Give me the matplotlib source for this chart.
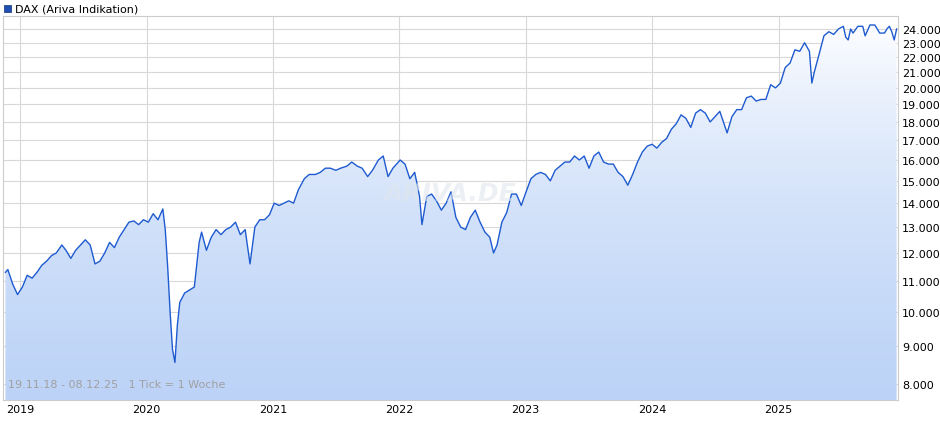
import numpy as np
import pandas as pd
import matplotlib
matplotlib.use('Agg')
import matplotlib.pyplot as plt
import matplotlib.dates as mdates
from matplotlib.ticker import FixedLocator, NullLocator, FuncFormatter

dates = ["2018-11-19","2018-11-26","2018-12-10","2018-12-24","2019-01-07","2019-01-21","2019-02-04","2019-02-18",
"2019-03-04","2019-03-18","2019-04-01","2019-04-15","2019-05-01","2019-05-13","2019-05-27","2019-06-10","2019-06-24",
"2019-07-08","2019-07-22","2019-08-05","2019-08-19","2019-09-02","2019-09-16","2019-09-30","2019-10-14","2019-10-28",
"2019-11-11","2019-11-25","2019-12-09","2019-12-23","2020-01-06","2020-01-20","2020-02-03","2020-02-17","2020-02-24",
"2020-03-02","2020-03-09","2020-03-16","2020-03-23","2020-03-30","2020-04-06","2020-04-20","2020-05-04","2020-05-18",
"2020-06-01","2020-06-08","2020-06-22","2020-07-06","2020-07-20","2020-08-03","2020-08-17","2020-08-31","2020-09-14",
"2020-09-28","2020-10-12","2020-10-26","2020-11-09","2020-11-23","2020-12-07","2020-12-21","2021-01-04","2021-01-18",
"2021-02-01","2021-02-15","2021-03-01","2021-03-15","2021-04-01","2021-04-15","2021-05-03","2021-05-17","2021-06-01",
"2021-06-15","2021-07-01","2021-07-15","2021-08-02","2021-08-16","2021-09-01","2021-09-15","2021-10-01","2021-10-15",
"2021-11-01","2021-11-15","2021-11-29","2021-12-13","2022-01-03","2022-01-17","2022-01-31","2022-02-14","2022-02-28",
"2022-03-07","2022-03-21","2022-04-04","2022-04-18","2022-05-02","2022-05-16","2022-05-30","2022-06-13","2022-06-27",
"2022-07-11","2022-07-25","2022-08-08","2022-08-22","2022-09-05","2022-09-19","2022-09-30","2022-10-10","2022-10-24",
"2022-11-07","2022-11-21","2022-12-05","2022-12-19","2023-01-02","2023-01-16","2023-01-30","2023-02-13","2023-02-27",
"2023-03-13","2023-03-27","2023-04-10","2023-04-24","2023-05-08","2023-05-22","2023-06-05","2023-06-19","2023-07-03",
"2023-07-17","2023-07-31","2023-08-14","2023-08-28","2023-09-11","2023-09-25","2023-10-09","2023-10-23","2023-11-06",
"2023-11-20","2023-12-04","2023-12-18","2024-01-01","2024-01-15","2024-01-29","2024-02-12","2024-02-26","2024-03-11",
"2024-03-25","2024-04-08","2024-04-22","2024-05-06","2024-05-20","2024-06-03","2024-06-17","2024-07-01","2024-07-15",
"2024-08-05","2024-08-19","2024-09-02","2024-09-16","2024-09-30","2024-10-14","2024-10-28","2024-11-11","2024-11-25",
"2024-12-09","2024-12-23","2025-01-06","2025-01-20","2025-02-03","2025-02-17","2025-03-03","2025-03-17","2025-03-31",
"2025-04-07","2025-04-14","2025-04-28","2025-05-12","2025-05-26","2025-06-09","2025-06-23","2025-07-07","2025-07-14",
"2025-07-21","2025-07-28","2025-08-04","2025-08-18","2025-09-01","2025-09-08","2025-09-22","2025-10-06","2025-10-20",
"2025-11-03","2025-11-10","2025-11-17","2025-11-24","2025-12-01","2025-12-08"]
values = [11300,11400,10900,10550,10800,11200,11100,11300,
11550,11700,11900,12000,12300,12100,11800,12100,12300,
12500,12300,11600,11700,12000,12400,12200,12600,12900,
13200,13250,13100,13300,13200,13550,13300,13750,12900,
11500,10000,8900,8550,9600,10300,10600,10700,10800,
12400,12800,12100,12600,12900,12700,12900,13000,13200,
12700,12900,11600,13000,13300,13300,13500,14000,13900,
14000,14100,14000,14600,15100,15300,15300,15400,15600,
15600,15500,15600,15700,15900,15700,15600,15200,15500,
16000,16200,15200,15600,16000,15800,15100,15400,14300,
13100,14300,14400,14100,13700,14000,14500,13400,13000,
12900,13400,13700,13200,12800,12600,12000,12300,13200,
13600,14400,14400,13900,14500,15100,15300,15400,15300,
15000,15500,15700,15900,15900,16200,16000,16200,15600,
16200,16400,15900,15800,15800,15400,15200,14800,15300,
15900,16400,16700,16800,16600,16900,17100,17600,17900,
18400,18200,17700,18500,18700,18500,18000,18300,18600,
17400,18300,18700,18700,19400,19500,19200,19300,19300,
20200,20000,20300,21300,21600,22500,22400,23000,22400,
20300,21000,22200,23500,23800,23600,24000,24200,23400,
23200,24000,23700,24200,24200,23500,24300,24300,23700,
23700,24000,24200,23800,23200,24000]
y_ticks = list(range(8000, 25000, 1000))
x_years = [2019, 2020, 2021, 2022, 2023, 2024, 2025]

t = mdates.date2num(pd.to_datetime(dates))
v = np.array(values, dtype=float)

fig = plt.figure(figsize=(9.4, 4.35), dpi=100)
ax = fig.add_axes([3/940, 34/435, 895/940, 384/435])
ymin, ymax = 7613, 24985
ax.set_yscale('log')
ax.set_ylim(ymin, ymax)
x0 = mdates.date2num(pd.Timestamp("2018-11-12"))
x1 = mdates.date2num(pd.Timestamp("2025-12-12"))
ax.set_xlim(x0, x1)

# gradient fill under the line
grad = np.linspace(0, 1, 256).reshape(-1, 1)
cmap = matplotlib.colors.LinearSegmentedColormap.from_list('g', ['#bcd3f7', '#ffffff'])
im = ax.imshow(grad, aspect='auto', cmap=cmap, origin='lower',
               extent=[x0, x1, ymin, ymax], zorder=1)
poly = ax.fill_between(t, v, ymin, color='none')
im.set_clip_path(poly.get_paths()[0], transform=ax.transData)

ax.plot(t, v, color='#1f5bd0', lw=1.0, zorder=3)

ax.yaxis.set_major_locator(FixedLocator(y_ticks))
ax.yaxis.set_minor_locator(NullLocator())
ax.yaxis.set_major_formatter(FuncFormatter(lambda y, p: f"{int(y):,}".replace(',', '.')))
ax.yaxis.tick_right()
ax.set_xticks([mdates.date2num(pd.Timestamp(f"{y}-01-01")) for y in x_years])
ax.set_xticklabels([str(y) for y in x_years])
ax.tick_params(length=0, labelsize=8, colors='black')
ax.tick_params(axis='y', pad=3)
ax.tick_params(axis='x', pad=3)
ax.grid(True, color='#d8d8d8', lw=0.8, zorder=0)
ax.set_axisbelow(True)
for s in ax.spines.values():
    s.set_color('#cccccc')

ax.text(0.5, 0.54, 'ARIVA.DE', transform=ax.transAxes, ha='center', va='center',
        fontsize=18, fontweight='bold', style='italic', color='#e0e6ee', alpha=0.6, zorder=4)
ax.text(0.006, 0.035, '19.11.18 - 08.12.25   1 Tick = 1 Woche', transform=ax.transAxes,
        fontsize=8, color='#a0a0a0', zorder=4)

fig.patches.append(matplotlib.patches.Rectangle((4/940, 1-13/435), 7/940, 7/435,
                   transform=fig.transFigure, facecolor='#1f4fb0', edgecolor='#10307a', lw=0.5))
fig.text(15/940, 1-9/435, 'DAX (Ariva Indikation)', fontsize=8, va='center')

fig.savefig('out.png', dpi=100)
